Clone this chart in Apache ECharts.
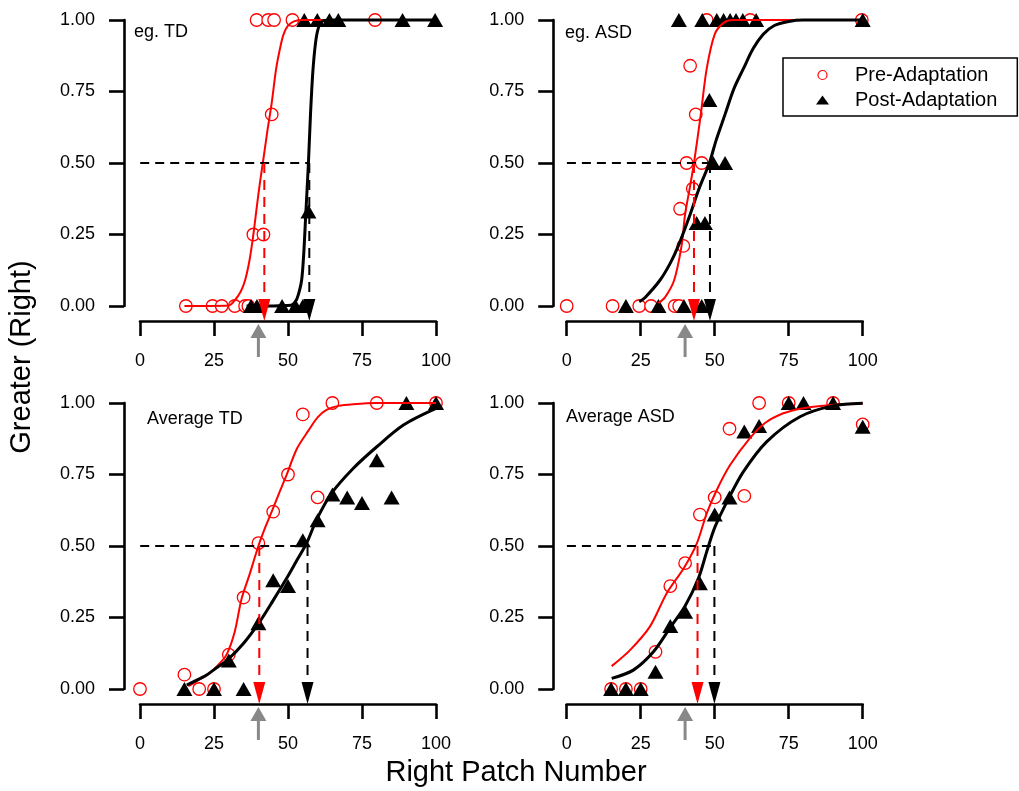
<!DOCTYPE html>
<html><head><meta charset="utf-8">
<script src="https://cdn.jsdelivr.net/npm/echarts@6/dist/echarts.min.js"></script>
<style>html,body{margin:0;padding:0;background:#fff}#c{width:1019px;height:791px}</style>
</head><body><div id="c"></div>
<script>
const FONT = '"Liberation Sans", Arial, Helvetica, sans-serif';

// ---------- labels ----------
const panelTitles = ['eg. TD', 'eg. ASD', 'Average TD', 'Average ASD'];
const xTickValues = [0, 25, 50, 75, 100];
const yTickValues = [0, 0.25, 0.5, 0.75, 1];
const seriesNames = ['Pre-Adaptation', 'Post-Adaptation'];

// ---------- panel 1 : eg. TD ----------
const p1PreX  = [15.5, 24.5, 27.6, 32, 35.5, 36.6, 38.3, 41.7, 44.5, 39.4, 43.3, 45.3, 51.5, 79.4];
const p1PreY  = [0, 0, 0, 0, 0, 0, 0.25, 0.25, 0.67, 1, 1, 1, 1, 1];
const p1PostX = [37.5, 39.5, 48, 52.5, 55, 56.9, 55.5, 59.9, 64, 67, 88.7, 99.7];
const p1PostY = [0, 0, 0, 0, 0, 0.33, 1, 1, 1, 1, 1, 1];
const p1PreFitX  = [15, 30, 32, 34, 35.5, 37, 38.3, 39.5, 40.5, 41.5, 43, 44.5, 46, 47.5, 48.5, 50, 52, 55, 100];
const p1PreFitY  = [0, 0.002, 0.02, 0.05, 0.09, 0.16, 0.25, 0.35, 0.43, 0.5, 0.61, 0.71, 0.83, 0.91, 0.95, 0.98, 0.995, 1, 1];
const p1PostFitX = [36, 51, 52.5, 53.5, 54.6, 55.3, 56, 56.9, 57.6, 58.4, 59.3, 60.2, 61.5, 64, 100];
const p1PostFitY = [0, 0.003, 0.015, 0.04, 0.09, 0.18, 0.32, 0.5, 0.67, 0.82, 0.92, 0.97, 0.995, 1, 1];

// ---------- panel 2 : eg. ASD ----------
const p2PreX  = [0, 15.5, 24.5, 28.5, 36.5, 38, 39.4, 38.3, 42.6, 40.5, 45.6, 43.6, 41.7, 47.3, 62, 99.7];
const p2PreY  = [0, 0, 0, 0, 0, 0, 0.21, 0.34, 0.41, 0.5, 0.5, 0.67, 0.84, 1, 1, 1];
const p2PostX = [20, 31, 39.6, 45.6, 43.9, 46.7, 49.5, 53.5, 48.2, 37.9, 45.8, 50.7, 53, 55.2, 57.2, 59.5, 64, 100];
const p2PostY = [0, 0, 0, 0, 0.29, 0.29, 0.5, 0.5, 0.72, 1, 1, 1, 1, 1, 1, 1, 1, 1];
const p2PreFitX  = [31, 33.2, 36.3, 38.8, 40, 41.7, 43, 45.3, 47.3, 50, 53, 56, 100];
const p2PreFitY  = [0.01, 0.03, 0.09, 0.21, 0.32, 0.42, 0.5, 0.67, 0.83, 0.95, 0.99, 1, 1];
const p2PostFitX = [24.5, 26.5, 31.5, 35, 37.7, 41.7, 44.7, 48.2, 50.5, 53.5, 56.5, 59.7, 63, 66.4, 70, 75, 80, 100];
const p2PostFitY = [0.015, 0.03, 0.09, 0.15, 0.21, 0.32, 0.41, 0.5, 0.58, 0.67, 0.76, 0.83, 0.9, 0.95, 0.98, 0.995, 1, 1];

// ---------- panel 3 : Average TD ----------
const p3PreX  = [0, 15, 20, 25, 30, 35, 40, 45, 50, 55, 60, 65, 80, 100];
const p3PreY  = [0, 0.05, 0, 0, 0.12, 0.32, 0.51, 0.62, 0.75, 0.96, 0.67, 1, 1, 1];
const p3PostX = [15, 25, 35, 30, 40, 45, 50, 55, 60, 65, 70, 75, 80, 85, 90, 100];
const p3PostY = [0, 0, 0, 0.1, 0.23, 0.38, 0.36, 0.52, 0.59, 0.68, 0.67, 0.65, 0.8, 0.67, 1, 1];
const p3PreFitX  = [16.3, 18, 20.5, 23.6, 26.5, 29.3, 32, 34.3, 37, 40, 42.5, 44.5, 47, 49.5, 53, 57, 60, 63, 67, 72, 80, 100];
const p3PreFitY  = [0.01, 0.02, 0.035, 0.055, 0.085, 0.121, 0.2, 0.315, 0.4, 0.5, 0.57, 0.62, 0.685, 0.748, 0.84, 0.905, 0.95, 0.976, 0.99, 0.996, 1, 1];
const p3PostFitX = [15.8, 18, 22.5, 26, 29.8, 35, 40.3, 45, 50, 53, 56.3, 59.7, 64.7, 72, 80, 89, 100];
const p3PostFitY = [0.014, 0.025, 0.049, 0.075, 0.104, 0.16, 0.233, 0.31, 0.395, 0.45, 0.51, 0.593, 0.684, 0.771, 0.847, 0.923, 0.981];

// ---------- panel 4 : Average ASD ----------
const p4PreX  = [15, 20, 25, 30, 35, 40, 45, 50, 55, 60, 65, 75, 90, 100];
const p4PreY  = [0, 0, 0, 0.13, 0.36, 0.44, 0.61, 0.67, 0.91, 0.675, 1, 1, 1, 0.925];
const p4PostX = [15, 20, 25, 30, 35, 40, 45, 50, 55, 60, 65, 75, 80, 90, 100];
const p4PostY = [0, 0, 0, 0.06, 0.22, 0.27, 0.37, 0.61, 0.67, 0.9, 0.92, 1, 1, 1, 0.917];
const p4PreFitX  = [15.2, 21.4, 28.1, 33.8, 39.7, 44, 47.3, 50.7, 55.2, 61.9, 67, 73.2, 80, 89.5, 100];
const p4PreFitY  = [0.08, 0.136, 0.218, 0.335, 0.425, 0.51, 0.614, 0.696, 0.783, 0.877, 0.93, 0.964, 0.982, 0.993, 0.998];
const p4PostFitX = [15.2, 22.5, 29.3, 35, 40, 44.6, 47.3, 50.1, 54.9, 59.7, 67.6, 78.8, 89.9, 100];
const p4PostFitY = [0.037, 0.066, 0.13, 0.215, 0.29, 0.39, 0.48, 0.567, 0.67, 0.76, 0.865, 0.952, 0.99, 0.999];

// ---------- thresholds (x where fit crosses 0.5) and adaptor ----------
const preThreshold  = [42, 43, 40.3, 44.2];
const postThreshold = [57.2, 48.4, 56.6, 49.9];
const adaptorNumber = 40;
const criterionLevel = 0.5;

// ---------- build ----------
const panels = [
  {preX: p1PreX, preY: p1PreY, postX: p1PostX, postY: p1PostY, preFitX: p1PreFitX, preFitY: p1PreFitY, postFitX: p1PostFitX, postFitY: p1PostFitY},
  {preX: p2PreX, preY: p2PreY, postX: p2PostX, postY: p2PostY, preFitX: p2PreFitX, preFitY: p2PreFitY, postFitX: p2PostFitX, postFitY: p2PostFitY},
  {preX: p3PreX, preY: p3PreY, postX: p3PostX, postY: p3PostY, preFitX: p3PreFitX, preFitY: p3PreFitY, postFitX: p3PostFitX, postFitY: p3PostFitY},
  {preX: p4PreX, preY: p4PreY, postX: p4PostX, postY: p4PostY, preFitX: p4PreFitX, preFitY: p4PreFitY, postFitX: p4PostFitX, postFitY: p4PostFitY}
];
const zip = (xs, ys) => xs.map((x, i) => [x, ys[i]]);

const gridPos = [
  {left: 140, top: 20},
  {left: 566.7, top: 20},
  {left: 140, top: 403},
  {left: 566.7, top: 403}
];
const GW = 296, GH = 286;
const X_OFF = 15;
const Y_OFF = [16, 13.5, 16, 13.5];
// arrow geometry (in data units below y=0, derived from the axis offset)
const tipV = -X_OFF / GH;            // tip of down arrows touches the x axis line
const downHeadV = tipV + 11 / GH;    // centre of 22px head
const greyHeadV = -25 / GH;
const greyTailV = -51 / GH;
const hDashStartX = -5;

const grids = [], xAxes = [], yAxes = [], series = [], titles = [];
const axisLine = {show: true, onZero: false, lineStyle: {color: '#000', width: 2.6}};
const axisTick = {show: true, length: 15, lineStyle: {color: '#000', width: 2.6}};
const labelStyle = {color: '#000', fontSize: 18, fontFamily: FONT};

panels.forEach((p, i) => {
  grids.push({left: gridPos[i].left, top: gridPos[i].top, width: GW, height: GH, containLabel: false});
  xAxes.push({
    type: 'value', gridIndex: i, min: 0, max: 100, interval: 25, offset: X_OFF,
    axisLine, axisTick, splitLine: {show: false},
    axisLabel: Object.assign({margin: 31}, labelStyle)
  });
  yAxes.push({
    type: 'value', gridIndex: i, min: 0, max: 1, interval: 0.25, offset: Y_OFF[i],
    axisLine, axisTick, splitLine: {show: false},
    axisLabel: Object.assign({margin: 29, formatter: v => v.toFixed(2)}, labelStyle)
  });
  const common = {xAxisIndex: i, yAxisIndex: i, clip: false, silent: true, animation: false};
  series.push(Object.assign({
    type: 'line', name: 'preFit' + i, data: zip(p.preFitX, p.preFitY),
    showSymbol: false, smooth: 0.3, lineStyle: {color: '#ff0000', width: 2}
  }, common));
  series.push(Object.assign({
    type: 'line', name: 'postFit' + i, data: zip(p.postFitX, p.postFitY),
    showSymbol: false, smooth: 0.3, lineStyle: {color: '#000', width: 3}
  }, common));
  series.push(Object.assign({
    type: 'line', name: 'crit' + i,
    data: [[hDashStartX, criterionLevel], [postThreshold[i], criterionLevel]],
    showSymbol: false, lineStyle: {color: '#000', width: 2, type: [9, 6]}
  }, common));
  series.push(Object.assign({
    type: 'scatter', name: seriesNames[0], data: zip(p.preX, p.preY),
    symbol: 'circle', symbolSize: 12.5,
    itemStyle: {color: '#fff', borderColor: '#ff0000', borderWidth: 1.3, opacity: 1}
  }, common));
  series.push(Object.assign({
    type: 'scatter', name: seriesNames[1], data: zip(p.postX, p.postY),
    symbol: 'triangle', symbolSize: [16, 14],
    itemStyle: {color: '#000', opacity: 1}
  }, common));
  // threshold arrows
  [[preThreshold[i], '#ff0000'], [postThreshold[i], '#000']].forEach(([tx, col], k) => {
    series.push(Object.assign({
      type: 'line', name: 'arrow' + i + '_' + k, symbol: 'triangle', showSymbol: true,
      data: [
        {value: [tx, criterionLevel], symbol: 'none'},
        {value: [tx, downHeadV], symbol: 'triangle', symbolSize: [12, 22], symbolRotate: 180}
      ],
      lineStyle: {color: col, width: 2, type: [10, 7]},
      itemStyle: {color: col, opacity: 1}
    }, common));
  });
  series.push(Object.assign({
    type: 'line', name: 'adaptor' + i, symbol: 'triangle', showSymbol: true,
    data: [
      {value: [adaptorNumber, greyTailV], symbol: 'none'},
      {value: [adaptorNumber, greyHeadV], symbol: 'triangle', symbolSize: [16, 14]}
    ],
    lineStyle: {color: '#888', width: 3},
    itemStyle: {color: '#888', opacity: 1}
  }, common));
});

const titlePos = [
  {left: 134, top: 23}, {left: 565, top: 24}, {left: 147, top: 410}, {left: 566, top: 408}
];
panelTitles.forEach((t, i) => {
  titles.push({
    text: t, left: titlePos[i].left, top: titlePos[i].top, padding: 0,
    textStyle: {fontSize: 18, fontWeight: 'normal', color: '#000', fontFamily: FONT}
  });
});

const chart = echarts.init(document.getElementById('c'), null, {renderer: 'canvas'});
chart.setOption({
  animation: false,
  backgroundColor: '#fff',
  title: titles,
  grid: grids,
  xAxis: xAxes,
  yAxis: yAxes,
  legend: {
    data: [
      {name: seriesNames[0], icon: 'circle', itemStyle: {color: '#fff', borderColor: '#ff0000', borderWidth: 1.2, opacity: 1}},
      {name: seriesNames[1], icon: 'triangle', itemStyle: {color: '#000', opacity: 1}}
    ],
    orient: 'vertical', left: 783, top: 58,
    padding: [7, 20, 6, 33], itemGap: 5,
    itemWidth: 13, itemHeight: 9,
    borderColor: '#000', borderWidth: 1.5, borderRadius: 0,
    selectedMode: false,
    textStyle: {fontSize: 20, lineHeight: 20, color: '#000', fontFamily: FONT, padding: [0, 0, 0, 21]}
  },
  graphic: [
    {type: 'text', x: 22, y: 357, rotation: Math.PI / 2, silent: true,
     style: {text: 'Greater (Right)', fontSize: 29, fontFamily: FONT, fill: '#000', align: 'center', verticalAlign: 'middle'}},
    {type: 'text', x: 516, y: 773, silent: true,
     style: {text: 'Right Patch Number', fontSize: 29, fontFamily: FONT, fill: '#000', align: 'center', verticalAlign: 'middle'}}
  ],
  series
});
</script>
</body></html>
